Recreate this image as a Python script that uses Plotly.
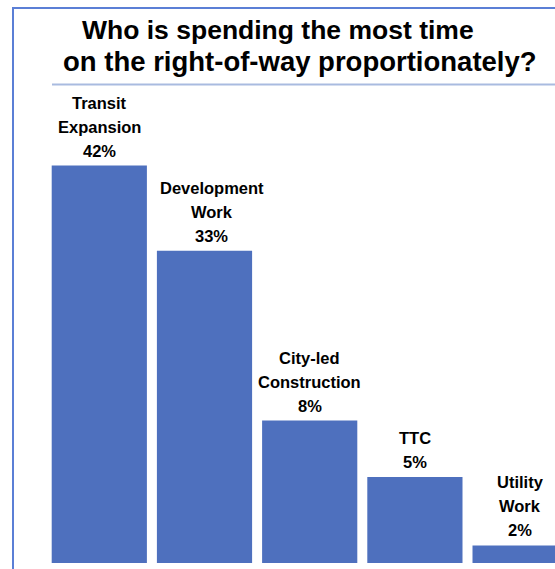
import plotly.graph_objects as go

# ---- data ----
categories = ["Transit<br>Expansion", "Development<br>Work", "City-led<br>Construction", "TTC", "Utility<br>Work"]
percent_labels = ["42%", "33%", "8%", "5%", "2%"]
bar_heights = [42, 33, 15.05, 9.1, 1.85]   # relative bar heights
title_lines = ["Who is spending the most time", "on the right-of-way proportionately?"]

W, H = 555, 569
BAR_COLOR = "#4E70BE"
FONT = "Arial, Liberation Sans, sans-serif"

# pixel geometry
px_per_unit = 9.464
bottom_px = 563
pitch = 105.2
first_center = 99.3

x_idx = list(range(len(categories)))
x_lo = -first_center / pitch
x_hi = x_lo + W / pitch
y_lo = -(H - bottom_px) / px_per_unit
y_hi = bottom_px / px_per_unit

fig = go.Figure()
fig.add_trace(go.Bar(
    x=x_idx, y=bar_heights,
    marker=dict(color=BAR_COLOR, line=dict(width=0)),
    width=0.905, hoverinfo="skip", showlegend=False,
))

label_xshift = {1: 7}  # the reference's "Development Work" label sits a little right of its bar

annotations = []
for i, (cat, pct, h) in enumerate(zip(categories, percent_labels, bar_heights)):
    lines = cat.split("<br>") + [pct]
    for k, txt in enumerate(reversed(lines)):
        annotations.append(dict(
            x=i, y=h, xref="x", yref="y", text=txt, showarrow=False,
            xanchor="center", yanchor="middle", yshift=15 + 24 * k,
            xshift=label_xshift.get(i, 0),
            font=dict(family=FONT, size=16.5, color="black", weight="bold"),
        ))

# title lines (separately centred as in the reference)
title_pos = [(277.5, 40, 26.5), (300, 71.5, 27.5)]
for txt, (cx, base, fs) in zip(title_lines, title_pos):
    annotations.append(dict(
        x=cx / W, y=1 - (base - 0.36 * fs) / H, xref="paper", yref="paper",
        text=txt, showarrow=False, xanchor="center", yanchor="middle",
        font=dict(family=FONT, size=fs, color="black", weight="bold"),
    ))

shapes = [
    # outer frame (left and top edges)
    dict(type="path", xref="paper", yref="paper",
         path=f"M {13/W} {0} L {13/W} {1-8/H} L {1.01} {1-8/H}",
         line=dict(color="#5B7FD6", width=2)),
    # rule under title
    dict(type="line", xref="paper", yref="paper",
         x0=52 / W, x1=1.01, y0=1 - 84.5 / H, y1=1 - 84.5 / H,
         line=dict(color="#A9BBE0", width=2)),
]

fig.update_layout(
    width=W, height=H,
    margin=dict(l=0, r=0, t=0, b=0),
    paper_bgcolor="white", plot_bgcolor="white",
    xaxis=dict(range=[x_lo, x_hi], visible=False, fixedrange=True),
    yaxis=dict(range=[y_lo, y_hi], visible=False, fixedrange=True),
    annotations=annotations, shapes=shapes,
    showlegend=False,
)

fig.write_html("out.html")
